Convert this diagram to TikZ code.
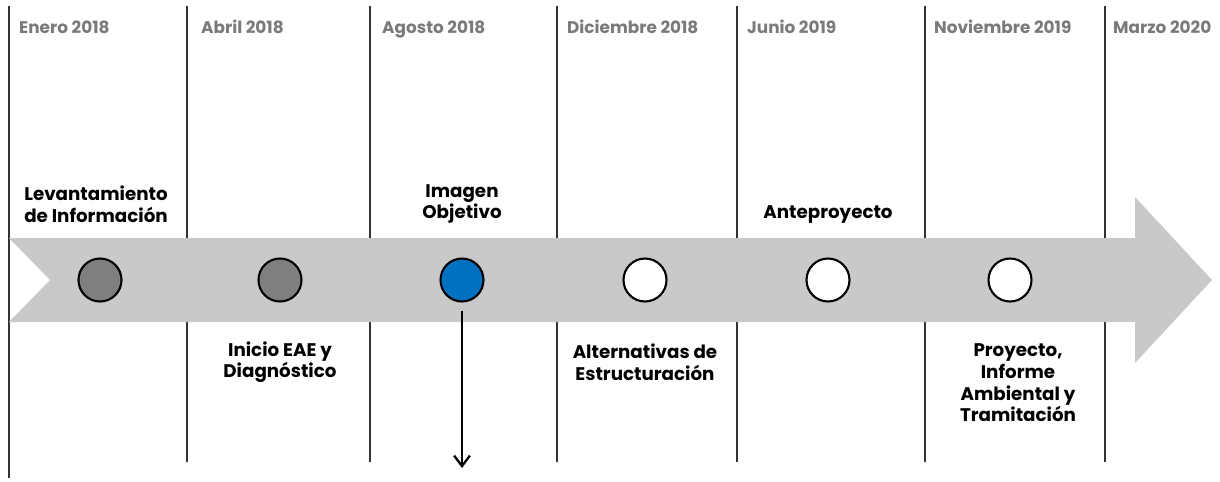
\documentclass[tikz,border=0pt]{standalone}
\usepackage{fontspec}
\setmainfont{Poppins}
\usetikzlibrary{positioning, arrows.meta}
\definecolor{bandgray}{HTML}{C9C9C9}
\definecolor{dotgray}{HTML}{7F7F7F}
\definecolor{dotblue}{HTML}{0070C0}
\definecolor{fechagray}{HTML}{7A7A7A}
\tikzset{
  hito/.style={circle, draw=black, line width=1.2pt, minimum size=0.86cm, inner sep=0pt},
  fecha/.style={anchor=base west, text=fechagray, font=\bfseries\fontsize{9.6}{11}\selectfont},
  etapa/.style={align=center, font=\bfseries\fontsize{10.4}{12.3}\selectfont},
  divisor/.style={draw=black!80, line width=0.6pt},
  baja/.style={-{Straight Barb[length=6pt, width=9pt]}, line width=1.3pt},
}
\begin{document}
\begin{tikzpicture}[x=0.02cm, y=-0.02cm]
  \useasboundingbox (0,0) rectangle (1220,481);
  % divisores de fechas
  \draw[divisor] (9,6) -- (9,478);
  \foreach \xd in {187,370,557,737,925,1105}
    \draw[divisor] (\xd,6) -- (\xd,462);
  \node[fecha] (f1) at (13,33) {Enero 2018};
  \node[fecha] (f2) at (195,33) {Abril 2018};
  \node[fecha] (f3) at (376,33) {Agosto 2018};
  \node[fecha] (f4) at (561,33) {Diciembre 2018};
  \node[fecha] (f5) at (741,33) {Junio 2019};
  \node[fecha] (f6) at (928,33) {Noviembre 2019};
  \node[fecha] (f7) at (1107,33) {Marzo 2020};
  % flecha de fondo
  \fill[bandgray] (9,238) -- (1135,238) -- (1135,197) -- (1212,280)
    -- (1135,363) -- (1135,322) -- (9,322) -- (50,280) -- cycle;
  % hitos
  \node[hito, fill=dotgray] (m1) at (100,280) {};
  \node[hito, fill=dotgray] (m2) at (280,280) {};
  \node[hito, fill=dotblue] (m3) at (462,280) {};
  \node[hito, fill=white] (m4) at (645,280) {};
  \node[hito, fill=white] (m5) at (828,280) {};
  \node[hito, fill=white] (m6) at (1010,280) {};
  % etapas
  \node[etapa] (e1) at (96,204) {Levantamiento\\de Información};
  \node[etapa] (e2) at (280,362) {Inicio EAE y\\Diagnóstico};
  \node[etapa] (e3) at (462,204) {Imagen\\Objetivo};
  \node[etapa] (e4) at (645,362) {Alternativas de\\Estructuración};
  \node[etapa] (e5) at (828,215) {Anteproyecto};
  \node[etapa] (e6) at (1018,383) {Proyecto,\\Informe\\Ambiental y\\Tramitación};
  \coordinate (fin) at (462,468);
  \draw[baja] (m3.south) ++(0,8) -- (fin);
\end{tikzpicture}
\end{document}
